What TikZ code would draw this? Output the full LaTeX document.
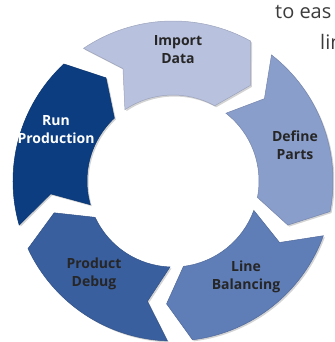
\documentclass[tikz,border=0pt]{standalone}
\usepackage{fontspec}
\setmainfont{Open Sans}
\usepackage{xcolor}
\usetikzlibrary{shadows}
\definecolor{importc}{HTML}{B8C1DD}
\definecolor{definec}{HTML}{8A9ECB}
\definecolor{linec}{HTML}{5F7DB6}
\definecolor{debugc}{HTML}{3A5F9F}
\definecolor{runc}{HTML}{0B3D80}
\definecolor{labelc}{HTML}{262626}

\begin{document}
\begin{tikzpicture}[scale=0.03515,
  part/.style={line width=0.5pt,drop shadow={opacity=0.35,shadow xshift=1.5pt,shadow yshift=-1.5pt}},
  lbl/.style={font=\bfseries\fontsize{14}{18}\selectfont,text=labelc,align=center,inner sep=0pt},
  page/.style={font=\fontsize{20}{24}\selectfont,text=labelc!90,anchor=base west,inner sep=0pt}]
\useasboundingbox (-173,-161) rectangle (161,181);
\clip (-173,-161) rectangle (161,181);
% ring parts, clockwise from the top
\fill [part,importc,draw=importc!85!black] (124:160) arc[start angle=124,end angle=61,radius=160]
  -- (51:123) -- (61:86) arc[start angle=61,end angle=124,radius=86] -- (114:123) -- cycle;
\fill [part,definec,draw=definec!85!black] (52:160) arc[start angle=52,end angle=-11,radius=160]
  -- (-21:123) -- (-11:86) arc[start angle=-11,end angle=52,radius=86] -- (42:123) -- cycle;
\fill [part,linec,draw=linec!85!black] (-20:160) arc[start angle=-20,end angle=-83,radius=160]
  -- (-93:123) -- (-83:86) arc[start angle=-83,end angle=-20,radius=86] -- (-30:123) -- cycle;
\fill [part,debugc,draw=debugc!85!black] (-92:160) arc[start angle=-92,end angle=-155,radius=160]
  -- (-165:123) -- (-155:86) arc[start angle=-155,end angle=-92,radius=86] -- (-102:123) -- cycle;
\fill [part,runc,draw=runc!85!black] (196:160) arc[start angle=196,end angle=133,radius=160]
  -- (123:123) -- (133:86) arc[start angle=133,end angle=196,radius=86] -- (186:123) -- cycle;
% labels
\node [lbl] (import) at (5,131) {Import\\Data};
\node [lbl] (define) at (122,36) {Define\\Parts};
\node [lbl] (balance) at (73,-96) {Line\\Balancing};
\node [lbl] (debug) at (-79,-93) {Product\\Debug};
\node [lbl,text=white] (run) at (-117,51) {Run\\Production};
% page text cut by the frame
\node [page] (easeline) at (102,162) {to eas};
\node [page] (linline) at (147,131) {lin};
\end{tikzpicture}
\end{document}
